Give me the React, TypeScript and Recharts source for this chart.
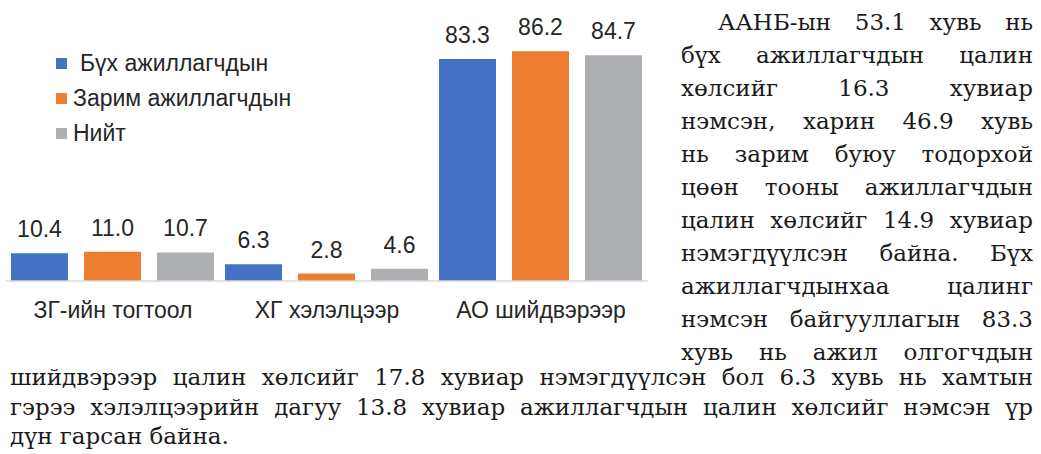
import { Bar, BarChart, XAxis, YAxis, Legend, LabelList } from 'recharts';

const categories = ['ЗГ-ийн тогтоол', 'ХГ хэлэлцээр', 'АО шийдвэрээр'];
const allWorkers = [10.4, 6.3, 83.3];
const someWorkers = [11.0, 2.8, 86.2];
const totalValues = [10.7, 4.6, 84.7];
const seriesNames = ['Бүх ажиллагчдын', 'Зарим ажиллагчдын', 'Нийт'];
const seriesColors = ['#4472C4', '#ED7D31', '#AEAFB3'];

const sideLines = [
  'ААНБ-ын 53.1 хувь нь',
  'бүх ажиллагчдын цалин',
  'хөлсийг 16.3 хувиар',
  'нэмсэн, харин 46.9 хувь',
  'нь зарим буюу тодорхой',
  'цөөн тооны ажиллагчдын',
  'цалин хөлсийг 14.9 хувиар',
  'нэмэгдүүлсэн байна. Бүх',
  'ажиллагчдынхаа цалинг',
  'нэмсэн байгууллагын 83.3',
  'хувь нь ажил олгогчдын',
];

const bottomLines = [
  'шийдвэрээр цалин хөлсийг 17.8 хувиар нэмэгдүүлсэн бол 6.3 хувь нь хамтын',
  'гэрээ хэлэлцээрийн дагуу 13.8 хувиар ажиллагчдын цалин хөлсийг нэмсэн үр',
  'дүн гарсан байна.',
];

const chartData = categories.map((name, i) => ({
  name,
  all: allWorkers[i],
  some: someWorkers[i],
  total: totalValues[i],
}));

const seriesKeys = ['all', 'some', 'total'];

const fmt = (v: any) => Number(v).toFixed(1);

// legend is drawn as a vertical list sitting inside the plot
const renderLegend = (props: any) => (
  <div>
    {(props.payload || []).map((entry: any, i: number) => (
      <div key={i} style={{ display: 'flex', alignItems: 'center', height: 35 }}>
        <span style={{ width: 11, height: 11, background: entry.color, marginRight: i === 0 ? 13 : 6 }} />
        <span style={{ fontSize: 23, color: '#262626', lineHeight: '26px' }}>{entry.value}</span>
      </div>
    ))}
  </div>
);

const serif = '"DejaVu Serif", serif';

export default function App() {
  return (
    <div style={{ position: 'relative', width: 1041, height: 454, background: '#fff', overflow: 'hidden' }}>
      <style>{'body{margin:0}'}</style>
      <div style={{ position: 'absolute', left: 0, top: 0 }}>
        <BarChart
          width={650}
          height={340}
          data={chartData}
          margin={{ top: 14.5, right: 2, left: 6, bottom: 0 }}
          barGap={16}
          barCategoryGap={5}
          style={{ fontFamily: '"Liberation Sans", Arial, sans-serif' }}
        >
          <XAxis
            dataKey="name"
            height={59}
            tickLine={false}
            axisLine={{ stroke: '#D9D9D9', strokeWidth: 1.5 }}
            tickMargin={15}
            tick={{ fontSize: 23, fill: '#262626' }}
            interval={0}
          />
          <YAxis hide domain={[0, 100]} />
          <Legend
            layout="horizontal"
            verticalAlign="middle"
            align="center"
            content={renderLegend}
            wrapperStyle={{ left: 56, top: 45.5, width: 300, height: 105 }}
          />
          {seriesKeys.map((key, i) => (
            <Bar key={key} dataKey={key} name={seriesNames[i]} fill={seriesColors[i]} isAnimationActive={false}>
              <LabelList dataKey={key} position="top" offset={16} formatter={fmt} style={{ fontSize: 23, fill: '#262626' }} />
            </Bar>
          ))}
        </BarChart>
      </div>

      <div
        style={{
          position: 'absolute',
          left: 681,
          top: 5.5,
          width: 352,
          fontFamily: serif,
          fontSize: 23,
          lineHeight: '33px',
          color: '#1a1a1a',
        }}
      >
        {sideLines.map((line, i) => (
          <div
            key={i}
            style={{
              whiteSpace: 'nowrap',
              textAlign: 'justify',
              textAlignLast: 'justify',
              textIndent: i === 0 ? 37 : 0,
            }}
          >
            {line}
          </div>
        ))}
      </div>

      <div
        style={{
          position: 'absolute',
          left: 10,
          top: 363.3,
          width: 1023,
          fontFamily: serif,
          fontSize: 23,
          lineHeight: '29.5px',
          color: '#1a1a1a',
        }}
      >
        {bottomLines.map((line, i) => (
          <div
            key={i}
            style={{
              whiteSpace: 'nowrap',
              textAlign: 'justify',
              textAlignLast: i === bottomLines.length - 1 ? 'left' : 'justify',
            }}
          >
            {line}
          </div>
        ))}
      </div>
    </div>
  );
}
